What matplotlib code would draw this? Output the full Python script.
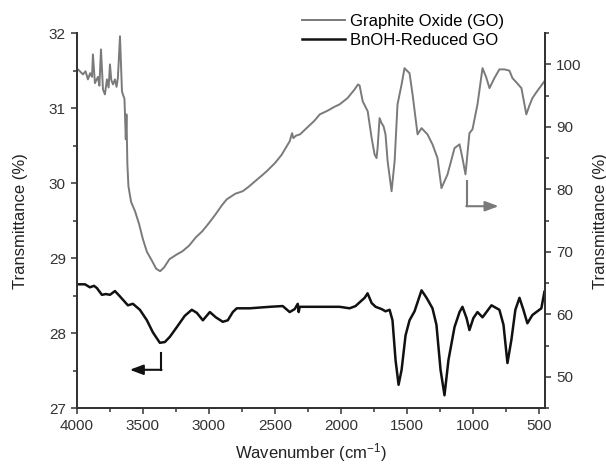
import numpy as np
import matplotlib
matplotlib.use("Agg")
import matplotlib.pyplot as plt
from matplotlib.ticker import MultipleLocator

plt.rcParams['font.family'] = ['Liberation Sans', 'DejaVu Sans']
plt.rcParams['mathtext.default'] = 'regular'

# Graphite oxide (right axis, %)
go_wn = [4000, 3992, 3955, 3935, 3917, 3900, 3886, 3879, 3864, 3841, 3830, 3818, 3803,
         3788, 3773, 3760, 3750, 3740, 3727, 3712, 3700, 3690, 3674, 3659, 3652, 3640,
         3630, 3625, 3618, 3610, 3590, 3560,
         3530, 3500, 3470, 3430, 3400, 3370, 3340, 3300, 3250, 3200, 3150, 3100, 3050,
         3000, 2950, 2900, 2865, 2800, 2744, 2700, 2650, 2600, 2562, 2500, 2450, 2388,
         2370, 2360, 2340, 2310, 2250, 2200, 2160, 2100, 2050, 2010, 1950, 1896, 1870,
         1858, 1835, 1797, 1767, 1745, 1730, 1722, 1707, 1692, 1677, 1662, 1646, 1616,
         1593, 1571, 1540, 1518, 1500, 1480, 1457, 1419, 1389, 1344, 1306, 1268, 1238,
         1192, 1139, 1101, 1079, 1056, 1026, 1003, 965, 927, 900, 874, 837, 799, 761,
         723, 700, 665, 632, 595, 570, 549, 520, 496, 475, 458]
go_t = [99.2, 99.2, 98.4, 98.9, 97.6, 98.6, 98.0, 101.6, 97.0, 98.0, 96.6, 102.4, 96.0,
        95.2, 97.6, 96.3, 100.0, 97.5, 96.8, 97.6, 96.4, 97.8, 104.5, 95.7, 95.2, 94.5,
        88.0, 92.0, 84.0, 80.5, 78.0, 76.5,
        74.5, 72.0, 70.0, 68.5, 67.3, 66.9, 67.5, 68.8, 69.5, 70.1, 71.0, 72.3, 73.3,
        74.6, 76.0, 77.5, 78.4, 79.3, 79.7, 80.4, 81.3, 82.2, 82.9, 84.2, 85.5, 87.7,
        89.0, 88.2, 88.6, 88.8, 90.0, 91.0, 92.0, 92.6, 93.2, 93.6, 94.6, 96.0, 96.8,
        96.6, 94.1, 92.5, 88.2, 85.6, 85.0, 86.6, 91.4, 90.6, 90.1, 88.8, 84.5, 79.7,
        84.5, 93.6, 96.8, 99.4, 99.0, 98.6, 95.2, 88.8, 89.8, 88.8, 87.2, 85.0, 80.2,
        82.4, 86.6, 87.2, 85.0, 82.4, 89.0, 89.6, 93.6, 99.4, 98.0, 96.2, 97.8, 99.2, 99.2,
        99.0, 97.8, 97.0, 96.2, 92.0, 93.5, 94.6, 95.5, 96.2, 96.8, 97.3]

# BnOH-reduced GO (left axis, %)
rgo_wn = [4000, 3939, 3902, 3871, 3849, 3811, 3781, 3750, 3712, 3675, 3614, 3576, 3523,
          3470, 3425, 3372, 3334, 3296, 3243, 3183, 3130, 3092, 3046, 2993, 2948, 2895,
          2857, 2819, 2789, 2691, 2539, 2441, 2388, 2350, 2327, 2320, 2312, 2161, 2010,
          1934, 1889, 1858, 1820, 1798, 1767, 1737, 1692, 1662, 1631, 1609, 1586, 1563,
          1540, 1510, 1480, 1442, 1389, 1351, 1306, 1276, 1245, 1215, 1185, 1139, 1101,
          1079, 1048, 1026, 996, 965, 927, 897, 859, 799, 768, 738, 708, 678, 647, 617,
          587, 549, 519, 481, 458]
rgo_t = [28.65, 28.65, 28.61, 28.63, 28.60, 28.51, 28.52, 28.51, 28.56, 28.49, 28.37,
         28.39, 28.31, 28.17, 28.01, 27.87, 27.88, 27.95, 28.08, 28.23, 28.31, 28.27,
         28.17, 28.28, 28.21, 28.15, 28.17, 28.28, 28.33, 28.33, 28.35, 28.36, 28.28,
         28.32, 28.39, 28.28, 28.35, 28.35, 28.35, 28.33, 28.36, 28.41, 28.47, 28.53,
         28.40, 28.35, 28.32, 28.29, 28.31, 28.17, 27.64, 27.31, 27.51, 27.97, 28.17,
         28.29, 28.57, 28.47, 28.33, 28.11, 27.51, 27.17, 27.64, 28.08, 28.28, 28.35,
         28.20, 28.04, 28.20, 28.28, 28.21, 28.28, 28.37, 28.31, 28.11, 27.60, 27.91,
         28.31, 28.47, 28.31, 28.13, 28.24, 28.28, 28.33, 28.55]

labels = ['Graphite Oxide (GO)', 'BnOH-Reduced GO']
gray = '#7a7a7a'
dark = '#111111'
axcol = '#333333'

fig = plt.figure(figsize=(6.06, 4.67), dpi=100)
ax = fig.add_axes([0.127, 0.1263, 0.772, 0.8027])
ax2 = ax.twinx()

l2, = ax.plot(rgo_wn, rgo_t, color=dark, lw=1.8, label=labels[1])
l1, = ax2.plot(go_wn, go_t, color=gray, lw=1.4, label=labels[0])

ax.set_xlim(4000, 455)
ax.set_ylim(27, 32)
ax2.set_ylim(45, 105)

ax.xaxis.set_major_locator(MultipleLocator(500))
ax.xaxis.set_minor_locator(MultipleLocator(250))
ax.yaxis.set_major_locator(MultipleLocator(1))
ax.yaxis.set_minor_locator(MultipleLocator(0.5))
ax2.yaxis.set_major_locator(MultipleLocator(10))
ax2.yaxis.set_minor_locator(MultipleLocator(5))
ax2.set_yticks([50, 60, 70, 80, 90, 100])

for a in (ax, ax2):
    a.spines['top'].set_visible(False)
    for s in a.spines.values():
        s.set_linewidth(1.3)
        s.set_color(axcol)
    a.tick_params(which='major', direction='out', length=4.5, width=1.1,
                  labelsize=11, colors=axcol, labelcolor='#333333')
    a.tick_params(which='minor', direction='out', length=3, width=1.1, colors=axcol)

ax.set_xlabel('Wavenumber (cm$^{-1}$)', fontsize=12, color='#222222', labelpad=6)
ax.set_ylabel('Transmittance (%)', fontsize=12, color='#222222', labelpad=15)
ax2.set_ylabel('Transmittance (%)', fontsize=12, color='#222222', labelpad=8)

# arrows showing which axis each curve uses
ax2.plot([1045, 1045], [81.3, 77.3], color=gray, lw=1.5)
ax2.annotate('', xy=(805, 77.3), xytext=(1050, 77.3),
             arrowprops=dict(arrowstyle='-|>,head_length=0.8,head_width=0.3',
                             color=gray, lw=1.5, shrinkA=0, shrinkB=0))
ax.plot([3364, 3364], [27.73, 27.51], color=dark, lw=1.5)
ax.annotate('', xy=(3600, 27.51), xytext=(3359, 27.51),
            arrowprops=dict(arrowstyle='-|>,head_length=0.8,head_width=0.3',
                            color=dark, lw=1.5, shrinkA=0, shrinkB=0))

fig.legend([l1, l2], labels, loc='upper left', bbox_to_anchor=(0.498, 0.97),
           frameon=False, fontsize=12, handlelength=2.6, handletextpad=0.3,
           labelspacing=0.25, borderpad=0, borderaxespad=0)

fig.savefig('out.png', dpi=100)
